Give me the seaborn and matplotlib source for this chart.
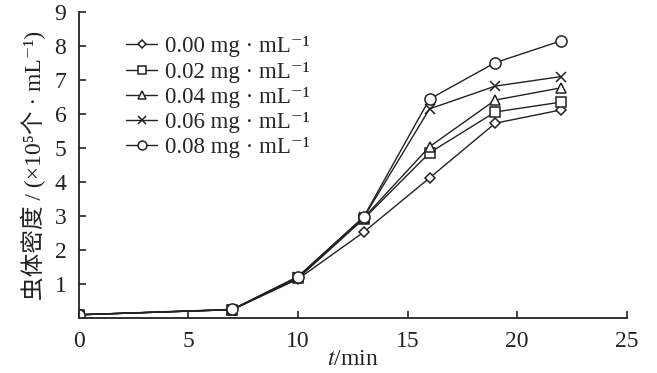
import numpy as np
import pandas as pd
import matplotlib
matplotlib.use("Agg")
import matplotlib.pyplot as plt
import seaborn as sns

sns.set_style("ticks")
plt.rcParams["font.family"] = ["Liberation Serif", "Noto Sans CJK SC", "DejaVu Serif"]
plt.rcParams["mathtext.fontset"] = "stix"

# sampling times (min)
times = [0, 7, 10, 13, 16, 19, 22]

# worm density (x10^5 per mL) for each concentration
conc_labels = ["0.00 mg · mL⁻¹", "0.02 mg · mL⁻¹", "0.04 mg · mL⁻¹",
               "0.06 mg · mL⁻¹", "0.08 mg · mL⁻¹"]
dens_000 = [0.10, 0.25, 1.15, 2.53, 4.12, 5.73, 6.12]
dens_002 = [0.10, 0.25, 1.17, 2.92, 4.86, 6.06, 6.35]
dens_004 = [0.10, 0.25, 1.20, 2.95, 5.04, 6.41, 6.77]
dens_006 = [0.10, 0.25, 1.22, 2.96, 6.15, 6.82, 7.10]
dens_008 = [0.10, 0.26, 1.22, 2.98, 6.44, 7.51, 8.15]
markers = ["D", "s", "^", "x", "o"]
msizes = [5, 7.5, 7, 7.5, 8]

series = [dens_000, dens_002, dens_004, dens_006, dens_008]

fig = plt.figure(figsize=(6.57, 3.73), dpi=100)
ax = fig.add_axes([0.120, 0.147, 0.834, 0.821])

for lab, vals, mk, ms in zip(conc_labels, series, markers, msizes):
    df = pd.DataFrame({"t": times, "d": vals})
    sns.lineplot(data=df, x="t", y="d", ax=ax, label=lab, color="#222222",
                 linewidth=1.0, marker=mk, markersize=ms,
                 markerfacecolor="white", markeredgecolor="#222222",
                 markeredgewidth=1.1)

ax.set_xlim(0, 25)
ax.set_ylim(0, 9)
ax.set_xticks([0, 5, 10, 15, 20, 25])
ax.set_yticks([1, 2, 3, 4, 5, 6, 7, 8, 9])
ax.tick_params(direction="in", length=5, width=1.2, labelsize=17, colors="#222222")
ax.tick_params(axis="x", pad=9)
ax.tick_params(axis="y", pad=9)
for s in ["left", "bottom"]:
    ax.spines[s].set_linewidth(1.3)
    ax.spines[s].set_color("#222222")
sns.despine(ax=ax)

ax.set_xlabel("$t$/min", fontsize=17, labelpad=-2, color="#222222")
ax.set_ylabel("虫体密度 / (×10⁵个 · mL⁻¹)", fontsize=17, labelpad=6, color="#222222")

ax.legend(loc="upper left", bbox_to_anchor=(0.07, 0.95), frameon=False,
          fontsize=16.5, handlelength=1.35, handletextpad=0.35, labelspacing=0.18,
          borderaxespad=0, markerscale=0.8)

fig.savefig("out.png", dpi=100)
